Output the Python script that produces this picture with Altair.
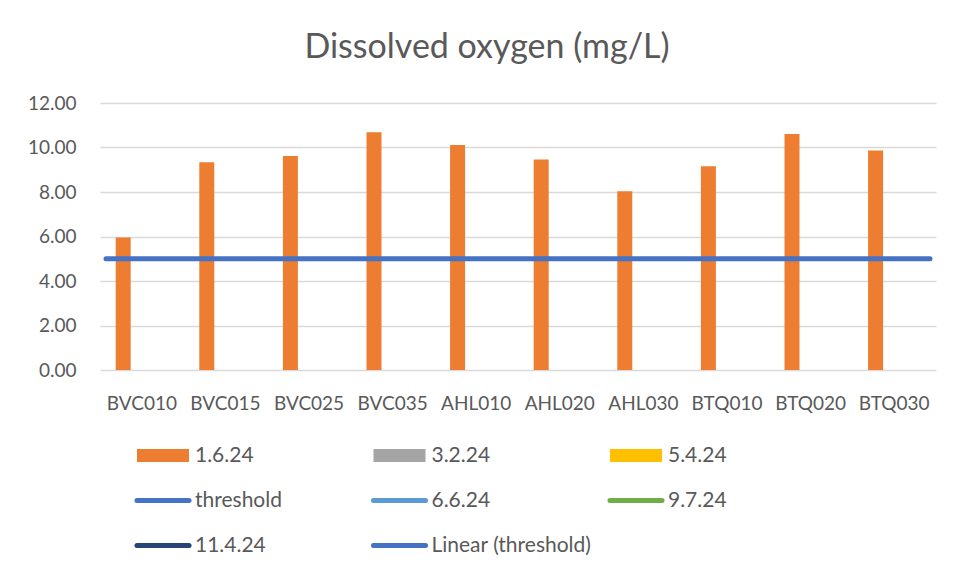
import altair as alt
import pandas as pd

# ---- data ----
sites = ["BVC010", "BVC015", "BVC025", "BVC035", "AHL010",
         "AHL020", "AHL030", "BTQ010", "BTQ020", "BTQ030"]
do_1_6_24 = [5.96, 9.34, 9.62, 10.68, 10.11, 9.46, 8.03, 9.16, 10.61, 9.87]
threshold_value = [5.0]
bar_series = ["1.6.24", "3.2.24", "5.4.24"]
y_ticks = [0, 2, 4, 6, 8, 10, 12]

legend_labels = ["1.6.24", "3.2.24", "5.4.24", "threshold", "6.6.24",
                 "9.7.24", "11.4.24", "Linear (threshold)"]
legend_kinds = ["bar", "bar", "bar", "line", "line", "line", "line", "line"]
legend_colors = ["#ED7D31", "#A5A5A5", "#FFC000", "#4472C4", "#5B9BD5",
                 "#70AD47", "#264478", "#4472C4"]

TEXT = "#595959"
FONT = "Lato"

bars_df = pd.DataFrame({"site": sites, "value": do_1_6_24, "series": "1.6.24"})
thr_df = pd.DataFrame({"threshold": threshold_value})

x_enc = alt.X(
    "site:N", sort=sites,
    scale=alt.Scale(paddingInner=0, paddingOuter=0),
    axis=alt.Axis(title=None, labelAngle=0, ticks=False, domain=False,
                  labelPadding=24, labelFontSize=19, labelColor=TEXT,
                  labelFont=FONT, grid=False),
)

y_scale = alt.Scale(domain=[0, 12])
y_axis = alt.Axis(values=y_ticks, format=".2f", title=None, ticks=False,
                  domain=False, grid=True, gridColor="#D9D9D9",
                  gridWidth=1.3, labelPadding=24, labelFontSize=19,
                  labelColor=TEXT, labelFont=FONT)

bars = alt.Chart(bars_df).mark_bar(color="#ED7D31").encode(
    x=x_enc,
    xOffset=alt.XOffset("series:N",
                        scale=alt.Scale(domain=bar_series, paddingInner=0.194,
                                        paddingOuter=0.844)),
    y=alt.Y("value:Q", scale=y_scale, axis=y_axis),
)

thr = alt.Chart(thr_df).mark_rule(color="#4472C4", strokeWidth=5,
                                  strokeCap="round").encode(
    y=alt.Y("threshold:Q", scale=y_scale, axis=y_axis),
    x=alt.value(6),
    x2=alt.value(830),
)

main = alt.layer(bars, thr).properties(
    width=836, height=267,
    title=alt.TitleParams("Dissolved oxygen (mg/L)", fontSize=34, font=FONT,
                          color=TEXT, fontWeight="normal", dx=-31, offset=29),
)

# ---- legend drawn as a small chart ----
leg_df = pd.DataFrame({
    "label": legend_labels,
    "kind": legend_kinds,
    "col": [i % 3 for i in range(len(legend_labels))],
    "row": [i // 3 for i in range(len(legend_labels))],
})
leg_df["col_end"] = leg_df["col"] + 0.22

lx = alt.X("col:Q", scale=alt.Scale(domain=[-0.1564, 3.3785]), axis=None)
ly = alt.Y("row:O", scale=alt.Scale(type="point", padding=0.5), axis=None)
lcolor = alt.Color("label:N",
                   scale=alt.Scale(domain=legend_labels, range=legend_colors),
                   legend=None)

leg_rect = alt.Chart(leg_df).transform_filter(
    alt.datum.kind == "bar").mark_rule(strokeWidth=13, strokeCap="butt").encode(
    x=lx, x2="col_end:Q", y=ly, color=lcolor)
leg_line = alt.Chart(leg_df).transform_filter(
    alt.datum.kind == "line").mark_rule(strokeWidth=5, strokeCap="round").encode(
    x=lx, x2="col_end:Q", y=ly, color=lcolor)
leg_text = alt.Chart(leg_df).mark_text(
    align="left", baseline="middle", dx=58, fontSize=21, font=FONT,
    color=TEXT).encode(x=lx, y=ly, text="label:N")

legend_chart = alt.layer(leg_rect, leg_line, leg_text).properties(
    width=836, height=135)

chart = alt.vconcat(main, legend_chart, spacing=20).properties(
    padding={"left": 19, "top": 23, "right": 5, "bottom": 0},
    background="white",
).configure_view(stroke=None)

chart.save("out.html", embed_options={"renderer": "svg", "actions": False})
